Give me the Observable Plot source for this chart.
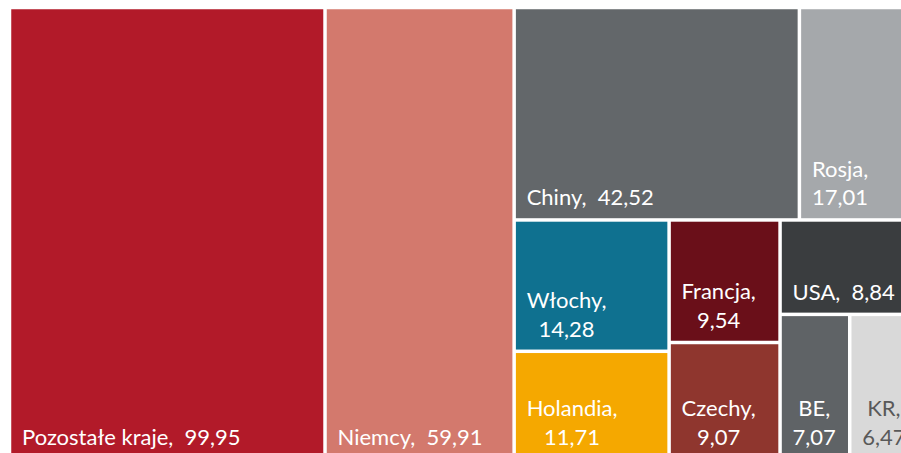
<!DOCTYPE html>
<html>
<head>
<meta charset="utf-8">
<script src="https://cdn.jsdelivr.net/npm/d3@7"></script>
<script src="https://cdn.jsdelivr.net/npm/@observablehq/plot@0.6"></script>
<style>
  html, body { margin: 0; padding: 0; background: #fff; overflow: hidden; }
  #chart { width: 901px; height: 453px; overflow: hidden; }
</style>
</head>
<body>
<div id="chart"></div>
<script>
// ---- data ----
const names  = ["Pozostałe kraje", "Niemcy", "Chiny", "Rosja", "Włochy", "Holandia", "Francja", "Czechy", "USA", "BE", "KR"];
const values = [99.95, 59.91, 42.52, 17.01, 14.28, 11.71, 9.54, 9.07, 8.84, 7.07, 6.47];
// nesting of tiles (hierarchy groups)
const groups = ["", "", "A/B", "A/B", "A/C/D", "A/C/D", "A/C/E", "A/C/E", "A/C/F", "A/C/F/G", "A/C/F/G"];
const twoLine = [false, false, false, true, true, true, true, true, false, true, true];
const colors = ["#B21A29", "#D3796D", "#63676A", "#A5A8AB", "#0F7190", "#F5A800", "#6A0F19", "#8F362E", "#3A3D3F", "#5F6366", "#D9D9D9"];
const textColors = ["#fff", "#fff", "#fff", "#fff", "#fff", "#fff", "#fff", "#fff", "#fff", "#fff", "#595959"];

// ---- layout ----
const W = 904, H = 451.5;
const FONT_SIZE = 22, FONT = "Lato";

const root = {name: "root", children: []};
names.forEach((n, i) => {
  let node = root;
  const parts = groups[i] ? groups[i].split("/") : [];
  for (const p of parts) {
    let c = node.children.find(d => d.name === p && d.children);
    if (!c) { c = {name: p, children: []}; node.children.push(c); }
    node = c;
  }
  node.children.push({name: n, value: values[i], i});
});
const h = d3.hierarchy(root).sum(d => d.value ?? 0);
d3.treemap().tile(d3.treemapSliceDice).size([W, H]).round(false)(h);
const leaves = h.leaves().map(d => ({...d.data, x0: d.x0, x1: d.x1, y0: d.y0, y1: d.y1, color: colors[d.data.i], tc: textColors[d.data.i]}));

const fmt = v => v.toFixed(2).replace(".", ",");
const ctx = document.createElement("canvas").getContext("2d");
ctx.font = `${FONT_SIZE}px ${FONT}`;
const labels = leaves.map(d => {
  const label = twoLine[d.i] ? `${d.name},\n${fmt(d.value)}` : `${d.name},\u00a0\u00a0${fmt(d.value)}`;
  const w = Math.max(...label.split("\n").map(s => ctx.measureText(s).width));
  return {...d, label, lx: d.x0 + 12 + w / 2, ly: d.y1 - 15};
});

const chart = Plot.plot({
  width: 901,
  height: 453,
  margin: 0,
  x: {domain: [0, W], range: [9.5, 9.5 + W], axis: null},
  y: {domain: [0, H], range: [7.5, 7.5 + H], axis: null},
  marks: [
    Plot.rect(leaves, {x1: "x0", x2: "x1", y1: "y0", y2: "y1", fill: "color", inset: 1.75}),
    Plot.text(labels, {x: "lx", y: "ly", text: "label", fill: "tc", textAnchor: "middle", lineAnchor: "bottom",
      lineHeight: 1.3, fontSize: FONT_SIZE, fontFamily: FONT})
  ]
});
document.getElementById("chart").append(chart);
</script>
</body>
</html>
